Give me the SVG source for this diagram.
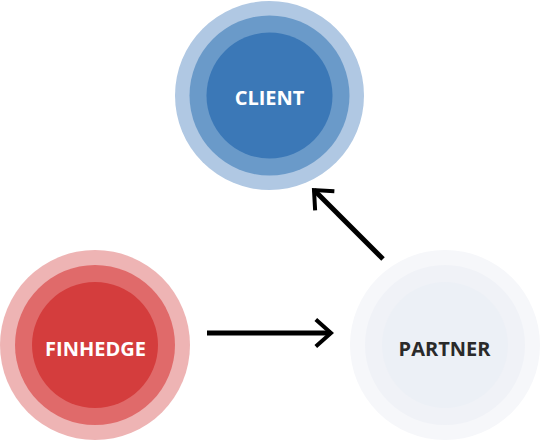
<svg xmlns="http://www.w3.org/2000/svg" width="540" height="440" viewBox="0 0 540 440">
<style>
.lbl{font-family:"Open Sans","Noto Sans",sans-serif;font-weight:bold;font-size:20px;text-anchor:middle}
.w{fill:#ffffff}
.d{fill:#2a2a2a}
.conn{fill:none;stroke:#000;stroke-width:5}
</style>
<defs>
<marker id="head" markerUnits="userSpaceOnUse" markerWidth="40" markerHeight="40" refX="0" refY="0" viewBox="-25 -25 40 50" orient="auto" overflow="visible">
<path d="M-19,-17 L0,0 L-19,17" fill="none" stroke="#000" stroke-width="5"/>
</marker>
</defs>
<rect width="540" height="440" fill="#ffffff"/>
<g id="client">
<circle cx="269.5" cy="95.5" r="94.5" fill="#b0c8e3"/>
<circle cx="269.5" cy="95.5" r="80" fill="#6a9ac9"/>
<circle cx="269.5" cy="95.5" r="63" fill="#3b78b7"/>
<text class="lbl w" x="269.5" y="105">CLIENT</text>
</g>
<g id="finhedge">
<circle cx="95" cy="345" r="95" fill="#eeb4b4"/>
<circle cx="95" cy="345" r="80" fill="#e06a6a"/>
<circle cx="95" cy="345" r="63" fill="#d43d3d"/>
<text class="lbl w" x="95.5" y="356">FINHEDGE</text>
</g>
<g id="partner">
<circle cx="445" cy="345" r="95" fill="#f6f7fa"/>
<circle cx="445" cy="345" r="80" fill="#f0f2f7"/>
<circle cx="445" cy="345" r="63" fill="#ecf0f6"/>
<text class="lbl d" x="444.5" y="356">PARTNER</text>
</g>
<g id="connectors">
<path class="conn" d="M207,333 L331,333" marker-end="url(#head)"/>
<path class="conn" d="M383,259 L314,190" marker-end="url(#head)"/>
</g>
</svg>
